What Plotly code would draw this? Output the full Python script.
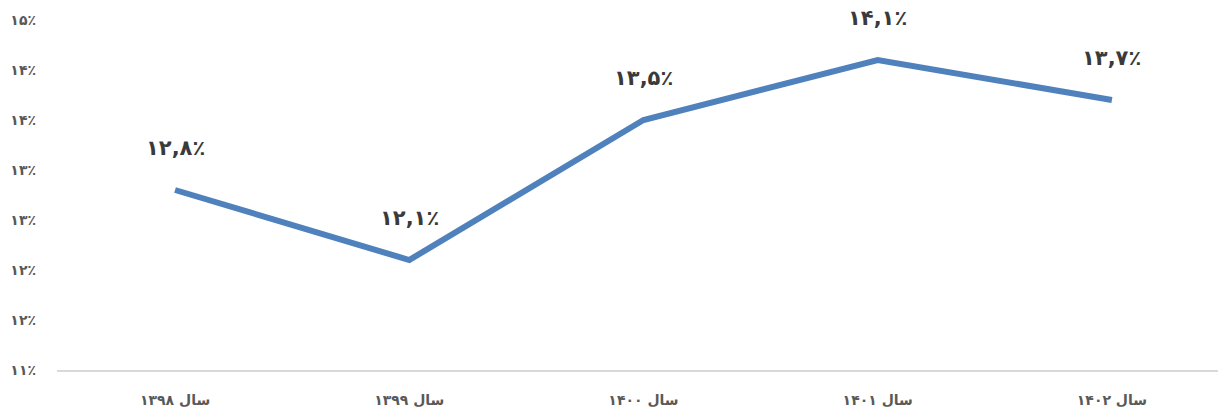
import plotly.graph_objects as go

categories = ["سال ۱۳۹۸", "سال ۱۳۹۹", "سال ۱۴۰۰", "سال ۱۴۰۱", "سال ۱۴۰۲"]
values = [12.8, 12.1, 13.5, 14.1, 13.7]
value_labels = ["۱۲,۸٪", "۱۲,۱٪", "۱۳,۵٪", "۱۴,۱٪", "۱۳,۷٪"]
y_tickvals = [11, 11.5, 12, 12.5, 13, 13.5, 14, 14.5]
y_ticktext = ["۱۱٪", "۱۲٪", "۱۲٪", "۱۳٪", "۱۳٪", "۱۴٪", "۱۴٪", "۱۵٪"]

fig = go.Figure()
fig.add_trace(go.Scatter(
    x=categories, y=values, mode="lines",
    line=dict(color="#4F81BD", width=6),
    hoverinfo="skip", showlegend=False,
))

for c, v, t in zip(categories, values, value_labels):
    fig.add_annotation(x=c, y=v, text="<b>" + t + "</b>", showarrow=False,
                       yshift=42, font=dict(size=21, color="#3A3A3A", family="DejaVu Sans"))

fig.update_layout(
    width=1218, height=410,
    margin=dict(l=57, r=0, t=20, b=40, autoexpand=False),
    paper_bgcolor="white", plot_bgcolor="white",
    xaxis=dict(
        type="category", range=[-0.504, 4.453],
        showgrid=False, zeroline=False, automargin=False,
        showline=True, linecolor="#D9D9D9", linewidth=1.5,
        ticks="", ticklabelstandoff=16,
        tickfont=dict(size=14, color="#595959", family="DejaVu Sans"),
        tickprefix="<b>", ticksuffix="</b>",
    ),
    yaxis=dict(
        range=[11, 14.5], tickvals=y_tickvals, ticktext=["<b>" + t + "</b>" for t in y_ticktext],
        showgrid=False, zeroline=False, showline=False, ticks="", automargin=False,
        ticklabelstandoff=20,
        tickfont=dict(size=14, color="#595959", family="DejaVu Sans"),
    ),
)

fig.write_html("out.html", post_script="document.body.style.margin='0';",
               config={"displayModeBar": False})
